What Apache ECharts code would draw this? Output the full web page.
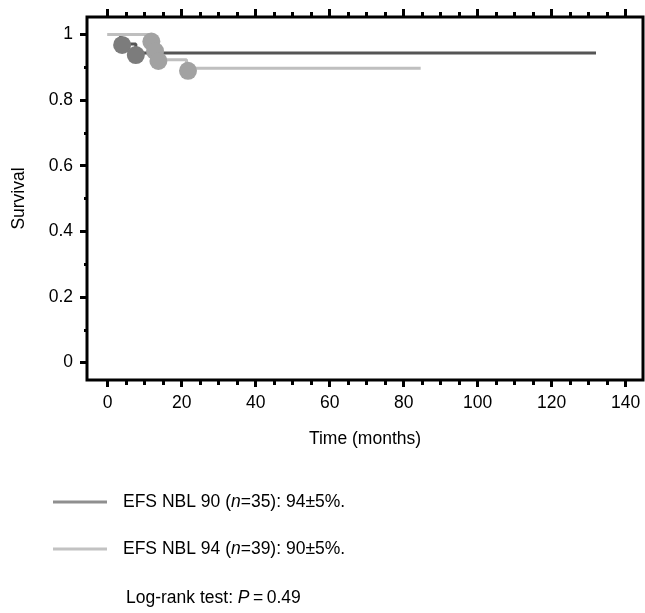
<!DOCTYPE html>
<html><head><meta charset="utf-8">
<script src="https://cdn.jsdelivr.net/npm/echarts@6/dist/echarts.min.js"></script>
<style>html,body{margin:0;padding:0;background:#fff}#c{width:645px;height:613px}</style>
</head><body><div id="c"></div>
<script>
// Data
const seriesNames = ['EFS NBL 90 (n=35): 94±5%.', 'EFS NBL 94 (n=39): 90±5%.'];
const nbl90Curve = [[0,1],[3.5,0.971],[7.6,0.943],[132,0.943]];
const nbl94Curve = [[0,1],[12,0.974],[12.8,0.949],[13.7,0.923],[21.3,0.897],[84.6,0.897]];
const nbl90Marks = [[3.9,0.968],[7.6,0.937]];
const nbl94Marks = [[11.8,0.978],[12.8,0.949],[13.7,0.919],[21.7,0.889]];
const xMajorTicks = [0,20,40,60,80,100,120,140];
const xMinorTicks = [0,5,10,15,20,25,30,35,40,45,50,55,60,65,70,75,80,85,90,95,100,105,110,115,120,125,130,135,140];
const yMajorTicks = [0,0.2,0.4,0.6,0.8,1];
const yMinorTicks = [0.1,0.3,0.5,0.7,0.9];
const logRankText = 'Log-rank test: ';
const pValue = '0.49';

const FONT = 'Liberation Sans, Arial, Helvetica, sans-serif';
const FS = 17.5;
const chart = echarts.init(document.getElementById('c'), null, {renderer:'canvas'});
const XMIN = -5.6, XMAX = 144.7, YMIN = -0.053, YMAX = 1.053;
function xAx(pos, ticks, len, labels){
  return {type:'value', position:pos, min:XMIN, max:XMAX,
    axisLine:{show:false, onZero:false}, splitLine:{show:false},
    axisTick:{show:true, inside:false, length:len, customValues:ticks, lineStyle:{color:'#000', width:3}},
    axisLabel:{show:labels, customValues:ticks, margin:14, color:'#000', fontSize:FS, fontFamily:FONT}};
}
function yAx(ticks, len, labels){
  return {type:'value', position:'left', min:YMIN, max:YMAX,
    axisLine:{show:false, onZero:false}, splitLine:{show:false},
    axisTick:{show:true, inside:false, length:len, customValues:ticks, lineStyle:{color:'#000', width:3}},
    axisLabel:{show:labels, customValues:ticks, margin:14, color:'#000', fontSize:FS, fontFamily:FONT}};
}
const xb = xAx('bottom', xMajorTicks, 7, true);
xb.name = 'Time (months)'; xb.nameLocation = 'middle'; xb.nameGap = 50;
xb.nameTextStyle = {color:'#000', fontSize:FS, fontFamily:FONT};
const yl = yAx(yMajorTicks, 7, true);
yl.name = 'Survival'; yl.nameLocation = 'middle'; yl.nameGap = 59; yl.nameRotate = 90;
yl.nameTextStyle = {color:'#000', fontSize:FS, fontFamily:FONT};

const rich = {a:{fontSize:FS, fontFamily:FONT, color:'#000'}, i:{fontSize:FS, fontFamily:FONT, fontStyle:'italic', color:'#000'}};
function fmt(name){
  const m = name.match(/^(.*\()n(=.*)$/);
  return m ? '{a|'+m[1]+'}{i|n}{a|'+m[2]+'}' : '{a|'+name+'}';
}

chart.setOption({
  animation:false,
  grid:{left:87, right:2, top:17, bottom:233, containLabel:false, outerBoundsMode:'none',
        show:true, borderColor:'#000', borderWidth:3, backgroundColor:'transparent'},
  xAxis:[xb, xAx('bottom', xMinorTicks, 5, false), xAx('top', xMajorTicks, 8, false), xAx('top', xMinorTicks, 5, false)],
  yAxis:[yl, yAx(yMinorTicks, 3, false)],
  legend:{orient:'vertical', left:53, top:492, padding:0, itemGap:27, itemWidth:54, itemHeight:3, icon:'rect',
    data:[{name:seriesNames[0], itemStyle:{color:'#8f8f8f'}},{name:seriesNames[1], itemStyle:{color:'#c2c2c2'}}],
    formatter:fmt, textStyle:{fontSize:FS, fontFamily:FONT, color:'#000', lineHeight:20, padding:[0,0,0,11], rich:rich}},
  series:[
    {name:seriesNames[0], type:'line', step:'end', data:nbl90Curve, showSymbol:false, symbol:'none',
     lineStyle:{color:'#555555', width:3}, itemStyle:{color:'#555555'}, z:2},
    {name:seriesNames[1], type:'line', step:'end', data:nbl94Curve, showSymbol:false, symbol:'none',
     lineStyle:{color:'#bfbfbf', width:3}, itemStyle:{color:'#bfbfbf'}, z:3},
    {name:'m90', type:'scatter', data:nbl90Marks, symbol:'circle', symbolSize:18, itemStyle:{color:'#7c7c7c', opacity:1}, z:4},
    {name:'m94', type:'scatter', data:nbl94Marks, symbol:'circle', symbolSize:18, itemStyle:{color:'#a2a2a2', opacity:1}, z:5}
  ],
  graphic:[{type:'text', left:126, top:589, style:{text:'{a|'+logRankText+'}{i|P}{a|\u2009=\u2009'+pValue+'}', rich:rich, font:FS+'px '+FONT}}]
});
</script></body></html>
